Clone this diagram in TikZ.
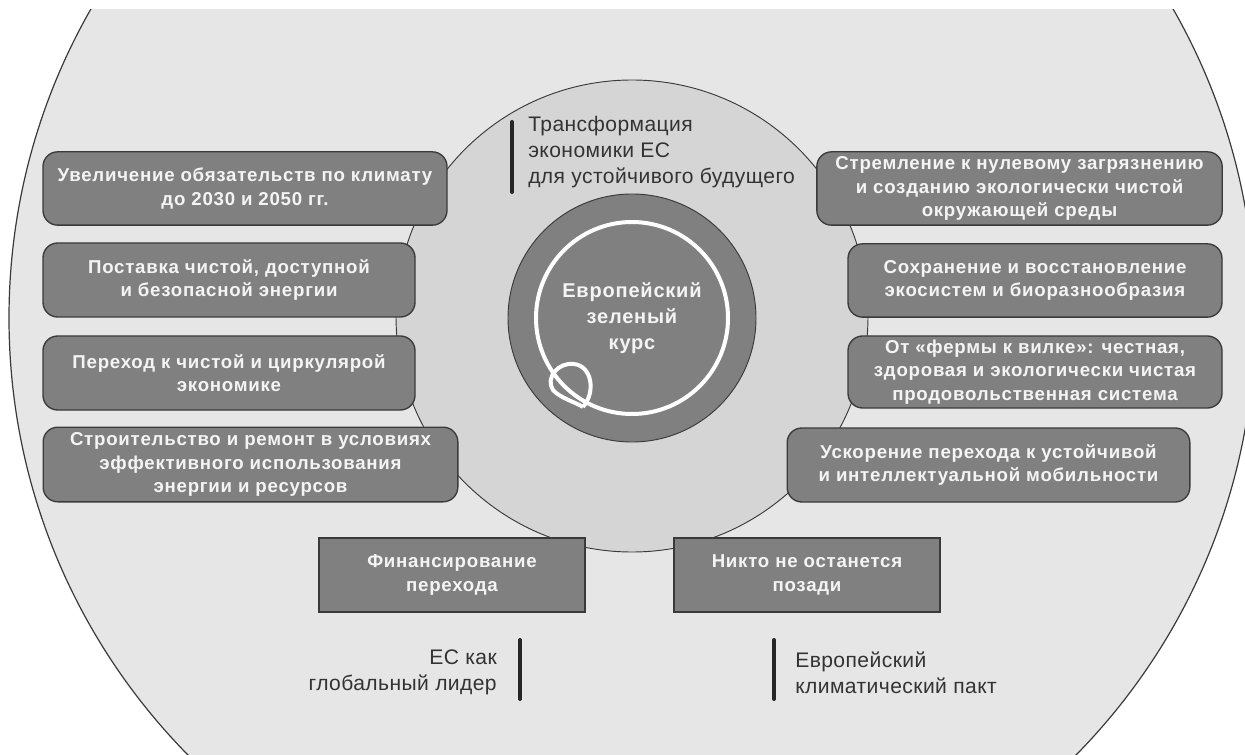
\documentclass[tikz,border=0pt]{standalone}
\usepackage{fontspec}
\setmainfont{Liberation Sans}
\newfontfamily\boxfont[LetterSpace=4]{Liberation Sans}
\newfontfamily\labelfont[LetterSpace=2]{Liberation Sans}
\definecolor{bgone}{HTML}{E6E6E6}
\definecolor{bgtwo}{HTML}{D5D5D5}
\definecolor{boxfill}{HTML}{808080}
\definecolor{edge}{HTML}{3A3A3A}
\definecolor{labeltext}{HTML}{333333}
\definecolor{boxtext}{HTML}{F4F4F4}
\tikzset{
  pillbox/.style={draw=edge, line width=1pt, fill=boxfill, rounded corners=11pt,
    text=boxtext, align=center, inner sep=0pt,
    font=\boxfont\fontsize{14}{17.6}\selectfont\bfseries},
  squarebox/.style={pillbox, rounded corners=0pt},
  bartext/.style={text=labeltext, inner sep=0pt, font=\labelfont\fontsize{15.8}{19.6}\selectfont},
  barline/.style={line width=3pt, line cap=round, draw=black!85}
}
\begin{document}
\begin{tikzpicture}[x=0.75pt, y=-0.75pt]
\useasboundingbox (0,0) rectangle (1245,755);
\fill[white] (0,0) rectangle (1245,755);
% outer circle
\begin{scope}
  \clip (0,10) rectangle (1245,755);
  \draw[fill=bgone, draw=edge, line width=0.9pt] (632,318) circle[radius=623];
\end{scope}
% middle circle
\draw[fill=bgtwo, draw=edge, line width=0.7pt] (632,316) circle[radius=236];
% dark circle
\node[circle, draw=edge, line width=0.7pt, fill=boxfill, minimum size=186pt, inner sep=0pt,
  text=boxtext, align=center, font=\boxfont\fontsize{15}{19.5}\selectfont\bfseries] (core) at (632,318)
  {Европейский\\зеленый\\курс};
\draw[white, line width=3pt] (core.center) circle[radius=96];
\draw[white, line width=3pt] (583,407) .. controls (596,392) and (592,366) .. (574,364)
  .. controls (558,362) and (545,378) .. (553,390) .. controls (560,398) and (575,402) .. (583,407);

% left boxes
\node[pillbox, minimum width=303pt, minimum height=55pt] (l1) at (245,188.5)
  {Увеличение обязательств по климату\\до 2030 и 2050 гг.};
\node[pillbox, minimum width=279pt, minimum height=55.5pt] (l2) at (229,280)
  {Поставка чистой, доступной\\и безопасной энергии};
\node[pillbox, minimum width=279pt, minimum height=55.5pt] (l3) at (229,373)
  {Переход к чистой и циркулярой\\экономике};
\node[pillbox, minimum width=311pt, minimum height=56pt] (l4) at (250.5,464.5)
  {Строительство и ремонт в условиях\\эффективного использования\\энергии и ресурсов};
% right boxes
\node[pillbox, minimum width=304pt, minimum height=55pt] (r1) at (1019.5,188.5)
  {Стремление к нулевому загрязнению\\и созданию экологически чистой\\окружающей среды};
\node[pillbox, minimum width=280.5pt, minimum height=55pt] (r2) at (1035,280.5)
  {Сохранение и восстановление\\экосистем и биоразнообразия};
\node[pillbox, minimum width=280.5pt, minimum height=54pt] (r3) at (1035,372)
  {От «фермы к вилке»: честная,\\здоровая и экологически чистая\\продовольственная система};
\node[pillbox, minimum width=302pt, minimum height=55.5pt] (r4) at (988.5,465)
  {Ускорение перехода к устойчивой\\и интеллектуальной мобильности};
% bottom boxes
\node[squarebox, minimum width=199.5pt, minimum height=55.5pt] (b1) at (452,575)
  {Финансирование\\перехода};
\node[squarebox, minimum width=199.5pt, minimum height=55.5pt] (b2) at (807,575)
  {Никто не останется\\позади};

% bar labels
\coordinate (t1) at (512,122);
\coordinate (t2) at (512,192);
\draw[barline] (t1) -- (t2);
\node[bartext, anchor=north west, align=left] (trans) at (528,116)
  {Трансформация\\экономики ЕС\\для устойчивого будущего};

\coordinate (g1) at (520,640);
\coordinate (g2) at (520,699);
\draw[barline] (g1) -- (g2);
\node[bartext, anchor=east, align=right] (glob) at (497,672.5)
  {ЕС как\\глобальный лидер};

\coordinate (k1) at (774,640);
\coordinate (k2) at (774,699);
\draw[barline] (k1) -- (k2);
\node[bartext, anchor=west, align=left] (pact) at (795,672.5)
  {Европейский\\климатический пакт};
\end{tikzpicture}
\end{document}
